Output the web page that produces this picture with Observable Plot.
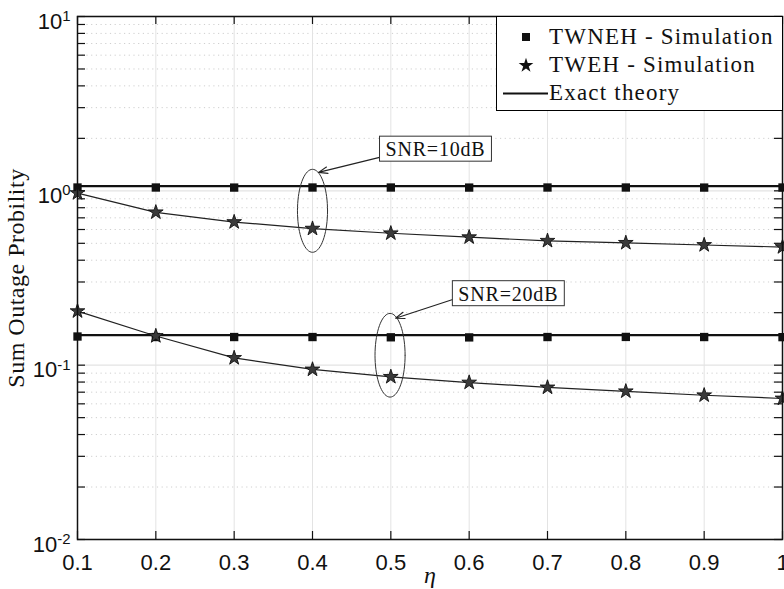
<!DOCTYPE html>
<html><head><meta charset="utf-8">
<script src="https://cdn.jsdelivr.net/npm/d3@7"></script>
<script src="https://cdn.jsdelivr.net/npm/@observablehq/plot@0.6"></script>
<style>
body{margin:0;background:#fff;}
#wrap{position:relative;width:784px;height:589px;overflow:hidden;background:#fff;}
.legend{position:absolute;left:496px;top:16px;width:287px;height:95px;border:1.3px solid #000;background:#fff;box-sizing:border-box;font-family:"Liberation Serif","Times New Roman",serif;font-size:23px;letter-spacing:1.2px;color:#111;}
.legend .row{position:absolute;left:0;height:28px;width:100%;}
.legend .row span{position:absolute;left:52px;top:0;line-height:28px;white-space:nowrap;}
.legend .row svg{position:absolute;left:0;top:0;}
</style></head><body><div id="wrap"></div>
<script>
// ---- data ----
const eta = [0.1, 0.2, 0.3, 0.4, 0.5, 0.6, 0.7, 0.8, 0.9, 1.0];
const etaLabels = ["0.1","0.2","0.3","0.4","0.5","0.6","0.7","0.8","0.9","1"];
// TWNEH simulation (squares)
const twnehSim10 = [1.045, 1.045, 1.044, 1.045, 1.045, 1.044, 1.045, 1.045, 1.044, 1.045];
const twnehSim20 = [0.146, 0.145, 0.145, 0.145, 0.1445, 0.1443, 0.145, 0.1452, 0.145, 0.1448];
// TWNEH exact theory (horizontal lines)
const twnehTheory = [1.065, 0.1486];
// TWEH simulation / theory (stars + thin line)
const tweh10 = [0.971, 0.753, 0.662, 0.607, 0.571, 0.542, 0.517, 0.503, 0.489, 0.476];
const tweh20 = [0.204, 0.147, 0.110, 0.0945, 0.0857, 0.0795, 0.0745, 0.0708, 0.0672, 0.0644];
// axis ticks
const yDecades = [0.01, 0.1, 1, 10];
const yMinor = [0.02,0.03,0.04,0.05,0.06,0.07,0.08,0.09,0.2,0.3,0.4,0.5,0.6,0.7,0.8,0.9,2,3,4,5,6,7,8,9];
// annotations (data units; ellipse half-sizes in x units and log10 decades)
const annotLabels = ["SNR=10dB", "SNR=20dB"];
const annotX = [0.557, 0.650];
const annotY = [1.72, 0.255];
const arrowFrom = [[0.4856, 1.556], [0.580, 0.239]];
const arrowTo = [[0.4077, 1.276], [0.506, 0.186]];
const ellipseCenter = [[0.4, 0.768], [0.499, 0.114]];
const ellipseHalf = [[0.0192, 0.238], [0.0192, 0.24]];
const legendLabels = ["TWNEH - Simulation", "TWEH - Simulation", "Exact theory"];

// ---- derived tables ----
const sq = eta.flatMap((x, i) => [{x, y: twnehSim10[i]}, {x, y: twnehSim20[i]}]);
const stars = eta.flatMap((x, i) => [{x, y: tweh10[i], s: "10"}, {x, y: tweh20[i], s: "20"}]);
const ell = [];
ellipseCenter.forEach(([cx, cy], k) => {
  const [hx, hl] = ellipseHalf[k];
  for (let t = 0; t <= 72; t++) {
    const a = t / 72 * 2 * Math.PI;
    ell.push({id: k, x: cx + hx * Math.cos(a), y: Math.pow(10, Math.log10(cy) + hl * Math.sin(a))});
  }
});
const arrows = arrowFrom.map((f, i) => ({x1: f[0], y1: f[1], x2: arrowTo[i][0], y2: arrowTo[i][1]}));
const annots = annotLabels.map((t, i) => ({t, x: annotX[i], y: annotY[i]}));
const yAll = yDecades.concat(yMinor);

const serif = "Liberation Serif, Times New Roman, serif";
const starR = 4.6;

const plot = Plot.plot({
  width: 784, height: 589,
  marginLeft: 77, marginRight: 2, marginTop: 16, marginBottom: 50,
  style: {fontFamily: "Liberation Sans, Arial, sans-serif", background: "white", overflow: "visible", color: "#111"},
  x: {domain: [0.1, 1]},
  y: {type: "log", domain: [0.01, 10]},
  marks: [
    Plot.ruleY(yMinor, {stroke: "#cfcfcf", strokeDasharray: "1.2,3.5", strokeWidth: 1}),
    Plot.ruleX(eta, {stroke: "#e3e3e3", strokeWidth: 1}),
    Plot.ruleY(yDecades, {stroke: "#e3e3e3", strokeWidth: 1.3}),
    // inward ticks
    Plot.ruleX(eta, {x: d => d, y1: 0.01, y2: 0.01, insetTop: -8, stroke: "#111", strokeWidth: 1.2}),
    Plot.ruleX(eta, {x: d => d, y1: 10, y2: 10, insetBottom: -8, stroke: "#111", strokeWidth: 1.2}),
    Plot.ruleY(yAll, {y: d => d, x1: 0.1, x2: 0.1, insetRight: -8, stroke: "#111", strokeWidth: 1.2}),
    Plot.ruleY(yAll, {y: d => d, x1: 1, x2: 1, insetLeft: -8, stroke: "#111", strokeWidth: 1.2}),
    // exact theory lines
    Plot.ruleY(twnehTheory, {stroke: "#111", strokeWidth: 2.2}),
    Plot.line(stars, {x: "x", y: "y", z: "s", stroke: "#222", strokeWidth: 1.2}),
    // simulation markers
    Plot.dot(sq, {x: "x", y: "y", symbol: "square", r: 4.7, fill: "#111", stroke: "none"}),
    Plot.dot(stars, {x: "x", y: "y", symbol: "star", r: starR, fill: "#3a3a3a", stroke: "#111", strokeWidth: 0.9}),
    // annotations
    Plot.line(ell, {x: "x", y: "y", z: "id", stroke: "#333", strokeWidth: 1}),
    Plot.arrow(arrows, {x1: "x1", y1: "y1", x2: "x2", y2: "y2", stroke: "#222", strokeWidth: 1.1, headLength: 13, headAngle: 40}),
    Plot.text(annots, {x: "x", y: "y", text: "t", fontFamily: serif, fontSize: 20, fill: "#111"}),
    Plot.frame({stroke: "#111", strokeWidth: 1.5}),
    // axes
    Plot.axisX(eta, {tickSize: 0, tickPadding: 15, fontSize: 22, label: null, tickFormat: d => etaLabels[eta.indexOf(d)]}),
    Plot.axisY(yDecades, {tickSize: 0, tickPadding: 7, fontSize: 22, label: null, dy: 5, tickFormat: d => String(Math.round(Math.log10(d)))}),
    Plot.text(["Sum Outage Probility"], {frameAnchor: "left", textAnchor: "middle", rotate: -90, dx: -61, fontFamily: serif, fontSize: 24, fill: "#111"}),
    Plot.text(["η"], {frameAnchor: "bottom", dy: 43, fontFamily: serif, fontStyle: "italic", fontSize: 24, fill: "#111"})
  ]
});
const wrap = document.getElementById("wrap");
wrap.appendChild(plot);

// superscript exponents on y tick labels
plot.querySelectorAll('g[aria-label="y-axis tick label"] text').forEach(t => {
  const e = t.textContent.replace("−", "-");
  t.textContent = "10";
  const ts = document.createElementNS("http://www.w3.org/2000/svg", "tspan");
  ts.setAttribute("dy", "-0.5em");
  ts.setAttribute("font-size", "0.68em");
  ts.textContent = e;
  t.appendChild(ts);
});

// letter spacing + boxes around annotation labels
plot.querySelectorAll('g[aria-label="text"] text').forEach(t => {
  if (t.textContent.startsWith("Sum")) { t.style.letterSpacing = "0.5px"; return; }
  if (!t.textContent.startsWith("SNR")) return;
  t.style.letterSpacing = "0.8px";
  const b = t.getBBox();
  const ctm = t.getAttribute("transform");
  const r = document.createElementNS("http://www.w3.org/2000/svg", "rect");
  r.setAttribute("x", b.x - 6); r.setAttribute("y", b.y - 2);
  r.setAttribute("width", b.width + 12); r.setAttribute("height", b.height + 3);
  r.setAttribute("fill", "white"); r.setAttribute("stroke", "#333"); r.setAttribute("stroke-width", "1");
  if (ctm) r.setAttribute("transform", ctm);
  t.parentNode.insertBefore(r, t);
});

// legend
const lg = document.createElement("div");
lg.className = "legend";
const rowsY = [6, 34, 62];
legendLabels.forEach((lab, i) => {
  const row = document.createElement("div");
  row.className = "row";
  row.style.top = rowsY[i] + "px";
  let icon = "";
  if (i === 0) icon = `<svg width="52" height="28"><rect x="25" y="10" width="8" height="8" fill="#111"/></svg>`;
  if (i === 1) icon = `<svg width="52" height="28"><path transform="translate(29,14.5)" d="${d3.symbol(d3.symbolStar, starR*starR*Math.PI)()}" fill="#111"/></svg>`;
  if (i === 2) icon = `<svg width="52" height="28"><line x1="6" x2="51" y1="14.5" y2="14.5" stroke="#111" stroke-width="2"/></svg>`;
  row.innerHTML = icon + `<span>${lab}</span>`;
  lg.appendChild(row);
});
wrap.appendChild(lg);
</script>
</body></html>
